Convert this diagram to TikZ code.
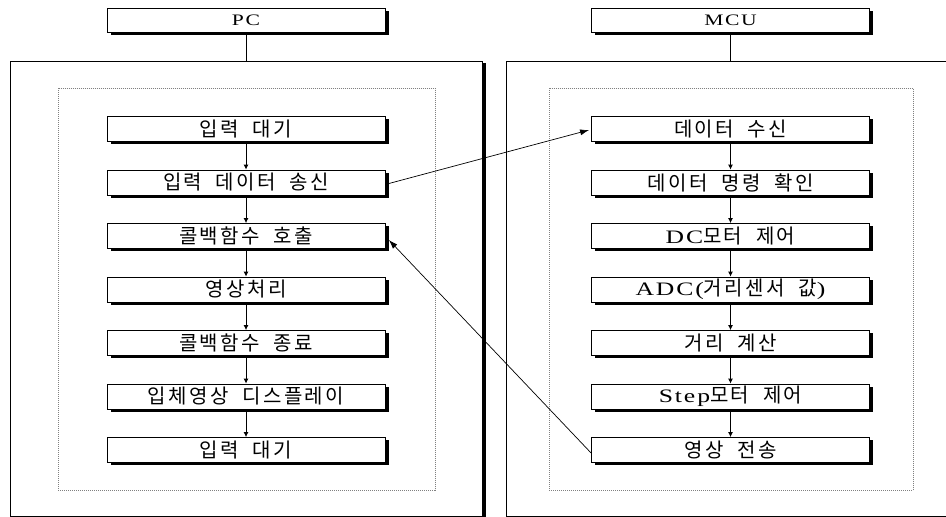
\documentclass[tikz,border=0pt]{standalone}
\usepackage{fontspec}
\usetikzlibrary{shadows,arrows.meta,calc}
\newfontfamily\kr{Noto Sans CJK KR}[LetterSpace=12,WordSpace=2]
\newfontfamily\lat{Liberation Serif}[LetterSpace=10,FakeStretch=1.35]
\newcommand\latb[1]{{\lat\fontsize{19}{19}\selectfont #1}}
\tikzset{
  box/.style={draw=black, line width=0.8pt, fill=white, minimum width=278pt, minimum height=25pt,
    inner sep=0pt, font=\kr\fontsize{20}{20}\selectfont,
    drop shadow={shadow xshift=3.5pt, shadow yshift=-2.5pt, fill=black, opacity=1}},
  hdr/.style={box, minimum height=24pt, font=\lat\fontsize{16}{16}\selectfont},
  panel/.style={draw=black, line width=0.8pt, fill=white, anchor=north west, inner sep=0pt,
    drop shadow={shadow xshift=3.5pt, shadow yshift=-2pt, fill=black, opacity=1}},
  dotbox/.style={draw=gray, line width=0.7pt, dash pattern=on 1pt off 1pt, anchor=north west, inner sep=0pt},
  flow/.style={line width=0.9pt, -{Latex[length=5pt,width=5pt]}},
  cross/.style={line width=0.7pt, -{Latex[length=9pt,width=6pt]}},
  conn/.style={line width=0.8pt}
}
\begin{document}
\begin{tikzpicture}[x=1pt,y=-1pt]
\useasboundingbox (0,0) rectangle (946,517);
\clip (0,0) rectangle (946,517);
\fill[white] (0,0) rectangle (946,517);
% panels
\node[panel, minimum width=472pt, minimum height=455pt] (lp) at (10,61) {};
\node[panel, minimum width=470pt, minimum height=455pt] (rp) at (506,61) {};
\node[dotbox, minimum width=377pt, minimum height=402pt] (ld) at (58,88) {};
\node[dotbox, minimum width=364pt, minimum height=402pt] (rd) at (549,88) {};
% headers
\node[hdr] (pc) at (246,20) {PC};
\node[hdr] (mcu) at (730.5,20) {MCU};
\draw[conn] (pc.south) -- (pc.south |- lp.north);
\draw[conn] (mcu.south) -- (mcu.south |- rp.north);
% left boxes
\node[box] (l1) at (246,129) {입력 대기};
\node[box] (l2) at (246,182.5) {입력 데이터 송신};
\node[box] (l3) at (246,236) {콜백함수 호출};
\node[box] (l4) at (246,289.5) {영상처리};
\node[box] (l5) at (246,343) {콜백함수 종료};
\node[box] (l6) at (246,396.5) {입체영상 디스플레이};
\node[box] (l7) at (246,450) {입력 대기};
% right boxes
\node[box] (r1) at (730.5,129) {데이터 수신};
\node[box] (r2) at (730.5,182.5) {데이터 명령 확인};
\node[box] (r3) at (730.5,236) {\latb{DC}모터 제어};
\node[box] (r4) at (730.5,289.5) {\latb{ADC(}거리센서 값\latb{)}};
\node[box] (r5) at (730.5,343) {거리 계산};
\node[box] (r6) at (730.5,396.5) {\latb{Step}모터 제어};
\node[box] (r7) at (730.5,450) {영상 전송};
% flow arrows
\foreach \a/\b in {l1/l2,l2/l3,l3/l4,l4/l5,l5/l6,l6/l7,r1/r2,r2/r3,r3/r4,r4/r5,r5/r6,r6/r7}{
  \draw[flow] ($(\a.south)+(0,2.5)$) -- (\b.north);
}
% cross arrows
\draw[cross] ($(l2.east)+(3.5,1)$) -- ($(r1.west)+(-2,1)$);
\draw[cross] ($(r7.west)+(0,3)$) -- ($(l3.east)+(3.5,4)$);
\end{tikzpicture}
\end{document}
